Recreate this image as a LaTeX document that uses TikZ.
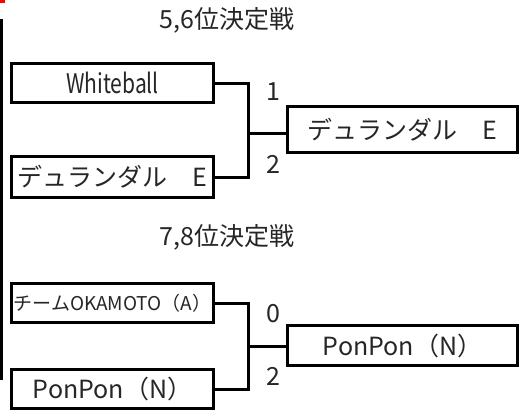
\documentclass[tikz,border=0pt]{standalone}
\usepackage{fontspec}
\setmainfont{Noto Sans CJK JP}
\begin{document}
\begin{tikzpicture}[x=1bp,y=-1bp,
  teambox/.style={draw=black,line width=3bp,inner sep=0pt,minimum width=202bp,minimum height=39bp,text=black!85,font=\fontsize{25bp}{28bp}\selectfont},
  winbox/.style={draw=black,line width=3bp,inner sep=0pt,minimum width=230bp,minimum height=46bp,text=black!85,font=\fontsize{25bp}{28bp}\selectfont},
  conn/.style={draw=black,line width=3bp},
  title/.style={font=\fontsize{25bp}{28bp}\selectfont,text=black!85,inner sep=0pt},
  score/.style={font=\fontsize{25bp}{28bp}\selectfont,text=black!85,inner sep=0pt}]
\useasboundingbox (0,0) rectangle (525,416);
% decorations at the left edge
\fill[red] (0,0) rectangle (5,3);
\draw[line width=3bp] (1.5,19) -- (1.5,380);
% 5,6
\node[title] (t1) at (227,20) {5,6位決定戦};
\node[teambox,font=\fontsize{27bp}{30bp}\selectfont\addfontfeature{FakeStretch=0.78}] (w1) at (112.5,83) {Whiteball};
\node[teambox,minimum height=41bp] (w2) at (112.5,177) {デュランダル　E};
\node[winbox] (w3) at (402.5,129.5) {デュランダル　E};
\coordinate (j1) at (248,133);
\draw[conn] (w1.east) -| (j1) |- (w2.east);
\draw[conn] (j1) -- (j1 -| w3.west);
\node[score] (s1) at (273,92) {1};
\node[score] (s2) at (273,164) {2};
% 7,8
\node[title] (t2) at (227,237) {7,8位決定戦};
\node[teambox,font=\fontsize{19bp}{22bp}\selectfont] (b1) at (112.5,303) {チームOKAMOTO（A）};
\node[teambox] (b2) at (112.5,389) {PonPon（N）};
\node[winbox,minimum height=40bp] (b3) at (402.5,345.5) {PonPon（N）};
\coordinate (j2) at (248,346);
\draw[conn] (b1.east) -| (j2) |- (b2.east);
\draw[conn] (j2) -- (j2 -| b3.west);
\node[score] (s3) at (273,314) {0};
\node[score] (s4) at (273,376) {2};
\end{tikzpicture}
\end{document}
